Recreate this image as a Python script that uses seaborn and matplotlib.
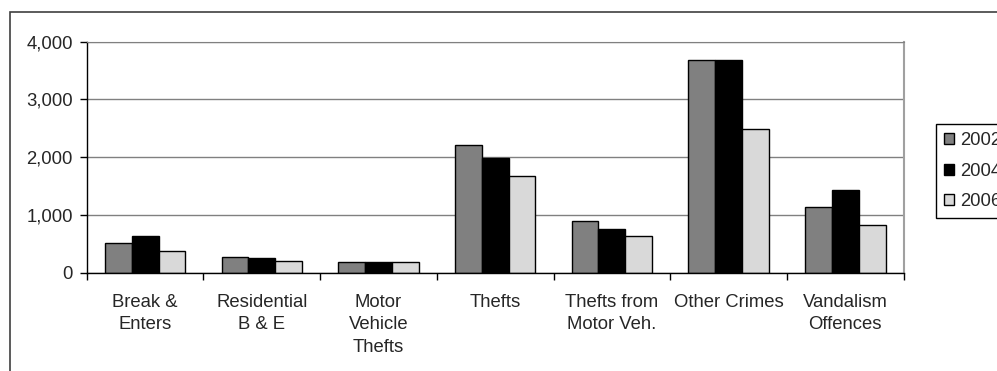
import matplotlib.pyplot as plt
import matplotlib.patches as mpatches
from matplotlib.ticker import FuncFormatter, FixedLocator, MultipleLocator
import pandas as pd
import seaborn as sns

# data
categories = [
    "Break &\nEnters",
    "Residential\nB & E",
    "Motor\nVehicle\nThefts",
    "Thefts",
    "Thefts from\nMotor Veh.",
    "Other Crimes",
    "Vandalism\nOffences",
]
years = ["2002", "2004", "2006"]
counts_2002 = [514, 272, 180, 2206, 890, 3678, 1132]
counts_2004 = [641, 254, 180, 1991, 762, 3678, 1427]
counts_2006 = [370, 197, 180, 1669, 641, 2483, 831]
year_colors = ["#808080", "#000000", "#d9d9d9"]

df = pd.DataFrame({
    "category": categories * 3,
    "year": [y for y in years for _ in categories],
    "count": counts_2002 + counts_2004 + counts_2006,
})

sns.set_style("white")
plt.rcParams["font.family"] = ["Liberation Sans", "DejaVu Sans"]
plt.rcParams["font.size"] = 13.3

fig = plt.figure(figsize=(9.97, 3.71), dpi=100)
ax = fig.add_axes([0.087, 0.265, 0.8194, 0.6225])

sns.barplot(
    data=df, x="category", y="count", hue="year",
    palette=dict(zip(years, year_colors)), order=categories, hue_order=years,
    width=0.69, edgecolor="black", linewidth=1, ax=ax,
)

# outer chart-area border (runs off the right and bottom edges)
fig.patches.append(mpatches.Rectangle(
    (10 / 997, -0.2), 1.2, 1.2 - 12 / 371, transform=fig.transFigure,
    fill=False, edgecolor="#404040", linewidth=1.2, clip_on=False,
))

ax.set_ylim(0, 4000)
ax.set_xlim(-0.5, len(categories) - 0.5)
ax.yaxis.set_major_locator(MultipleLocator(1000))
ax.yaxis.set_major_formatter(FuncFormatter(lambda v, _: f"{int(v):,}"))
ax.yaxis.grid(True, color="#808080", linewidth=1)
ax.set_axisbelow(True)
ax.set_xlabel("")
ax.set_ylabel("")

for side in ("left", "bottom"):
    ax.spines[side].set_color("black")
    ax.spines[side].set_linewidth(1)
ax.spines["top"].set_color("#808080")
ax.spines["right"].set_color("#a0a0a0")
ax.spines["right"].set_linewidth(1.5)

ax.tick_params(axis="y", length=5, width=1, color="black", pad=5, left=True)
ax.tick_params(axis="x", which="major", length=0, pad=15, labelsize=13.3)
ax.xaxis.set_minor_locator(FixedLocator([i - 0.5 for i in range(len(categories) + 1)]))
ax.tick_params(axis="x", which="minor", length=5, width=1, color="black", bottom=True)
for lbl in ax.get_xticklabels():
    lbl.set_linespacing(1.45)
    lbl.set_verticalalignment("top")

handles, labels = ax.get_legend_handles_labels()
ax.legend_.remove()
leg = fig.legend(
    handles, labels, loc="upper left", bbox_to_anchor=(936 / 997, 1 - 124 / 371),
    bbox_transform=fig.transFigure, borderaxespad=0, frameon=True, fancybox=False,
    framealpha=1, edgecolor="black", handlelength=0.55, handleheight=0.55,
    handletextpad=0.3, labelspacing=0.72, borderpad=0.45, fontsize=13.3,
)
leg.get_frame().set_linewidth(1)

fig.savefig("out.png", dpi=100, facecolor="white")
